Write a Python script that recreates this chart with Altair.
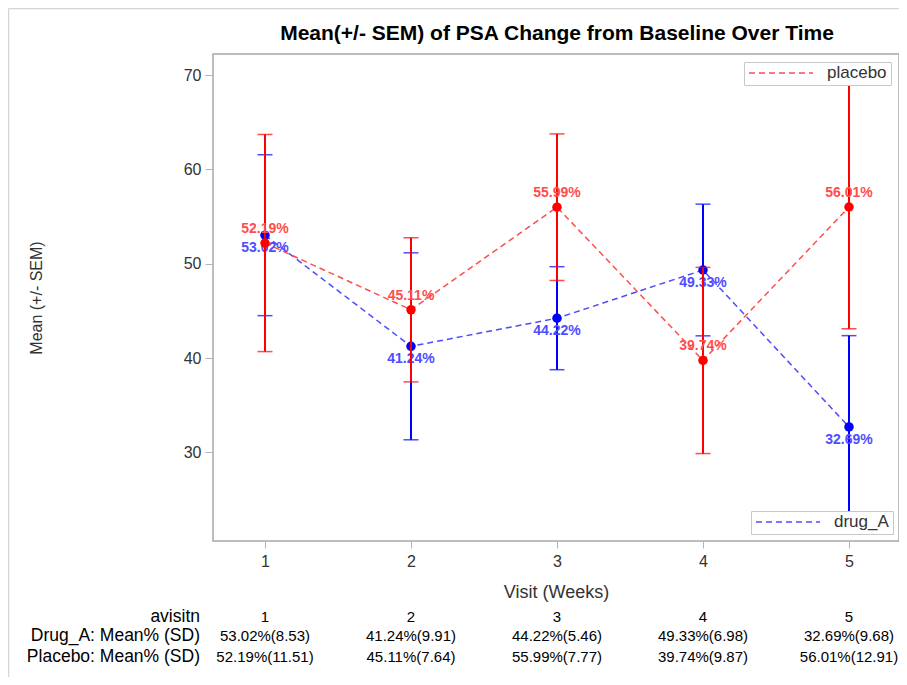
import altair as alt
import pandas as pd

visits = [1, 2, 3, 4, 5]
drug_mean = [53.02, 41.24, 44.22, 49.33, 32.69]
drug_sd = [8.53, 9.91, 5.46, 6.98, 9.68]
plac_mean = [52.19, 45.11, 55.99, 39.74, 56.01]
plac_sd = [11.51, 7.64, 7.77, 9.87, 12.91]
row_labels = ["avisitn", "Drug_A: Mean% (SD)", "Placebo: Mean% (SD)"]
y_ticks = [30, 40, 50, 60, 70]
title_text = "Mean(+/- SEM) of PSA Change from Baseline Over Time"

rows = []
for g, m, s in [("drug_A", drug_mean, drug_sd), ("placebo", plac_mean, plac_sd)]:
    for v, mi, si in zip(visits, m, s):
        rows.append({"visit": v, "group": g, "mean": mi, "sd": si,
                     "lo": mi - si, "hi": mi + si,
                     "label": f"{mi:.2f}%", "table": f"{mi:.2f}%({si:.2f})",
                     "vis": str(v)})
df = pd.DataFrame(rows)

FONT = "Liberation Sans"
RED, BLUE = "#ff0000", "#0000ff"
RED_L, BLUE_L = "#ff4d4d", "#4d4dff"

x = alt.X("visit:Q", scale=alt.Scale(domain=[0.643836, 5.342466], nice=False, zero=False),
          axis=alt.Axis(values=visits, format="d", title="Visit (Weeks)", grid=False,
                        domain=False, tickSize=7, tickColor="#b4b4b4", labelPadding=5,
                        labelFontSize=16, titleFontSize=18, titleFontWeight="normal",
                        titlePadding=14, labelColor="#333333", titleColor="#333333",
                        labelFont=FONT, titleFont=FONT))
y = alt.Y("mean:Q", scale=alt.Scale(domain=[20.6, 72.23], nice=False, zero=False),
          axis=alt.Axis(values=y_ticks, title="Mean (+/- SEM)", grid=False,
                        domain=False, tickSize=8, tickColor="#b4b4b4", labelPadding=4,
                        labelFontSize=16, titleFontSize=16, titleFontWeight="normal",
                        titlePadding=139, labelColor="#333333", titleColor="#333333",
                        labelFont=FONT, titleFont=FONT))

base = alt.Chart(df)

def grp(g):
    return base.transform_filter(alt.datum.group == g)

def legend(xp, yp):
    return alt.Legend(orient="none", legendX=xp, legendY=yp, title=None,
                      symbolType="stroke", symbolDash=[6, 4], symbolStrokeWidth=1.5,
                      symbolSize=4096, clipHeight=14, labelFontSize=17, labelFont=FONT,
                      labelColor="#333333", labelOffset=13, padding=4,
                      strokeColor="#c8c8c8", fillColor="white")

layers = []
for g, col, col_l, lx, ly, dy in [("drug_A", BLUE, BLUE_L, 538, 457, 13),
                                  ("placebo", RED, RED_L, 531, 8, -14)]:
    c = grp(g)
    line = c.mark_line(strokeDash=[6, 4], strokeWidth=1.5).encode(
        x=x, y=y,
        color=alt.Color("group:N", scale=alt.Scale(domain=[g], range=[col_l]),
                        legend=legend(lx, ly)))
    bar = c.mark_rule(color=col, strokeWidth=2).encode(x=x, y=alt.Y("lo:Q"), y2="hi:Q")
    cap_lo = c.mark_tick(color=col, orient="horizontal", size=15, thickness=1.5).encode(x=x, y=alt.Y("lo:Q"))
    cap_hi = c.mark_tick(color=col, orient="horizontal", size=15, thickness=1.5).encode(x=x, y=alt.Y("hi:Q"))
    pts = c.mark_point(filled=True, size=90, opacity=1, color=col).encode(x=x, y=y)
    lab = c.mark_text(dy=dy, fontSize=14, fontWeight="bold", font=FONT,
                      color=col_l).encode(x=x, y=y, text="label:N")
    layers += [line, bar, cap_lo, cap_hi, pts, lab]

# table below the plot
TV = 15
tab_vis = grp("drug_A").mark_text(fontSize=TV, font=FONT, color="black").encode(
    x=x, y=alt.value(563), text="vis:N")
tab_drug = grp("drug_A").mark_text(fontSize=TV, font=FONT, color="black").encode(
    x=x, y=alt.value(582), text="table:N")
tab_plac = grp("placebo").mark_text(fontSize=TV, font=FONT, color="black").encode(
    x=x, y=alt.value(603), text="table:N")
lab_rows = []
for lbl, yy in zip(row_labels, [563, 582, 603]):
    lab_rows.append(alt.Chart(pd.DataFrame({"t": [lbl]})).mark_text(
        align="right", fontSize=17.5, font=FONT, color="black").encode(
        x=alt.value(-13), y=alt.value(yy), text="t:N"))

title = alt.Chart(pd.DataFrame({"t": [title_text]})).mark_text(
    fontSize=21, fontWeight="bold", font=FONT, color="black").encode(
    x=alt.value(344), y=alt.value(-20), text="t:N")

border = alt.Chart(pd.DataFrame({"t": [0]})).mark_rule(color="#d4d4d4", strokeWidth=1.5)
b_left = border.encode(x=alt.value(-204.5), y=alt.value(-45.5), y2=alt.value(623))
b_top = border.encode(x=alt.value(-204.5), x2=alt.value(686), y=alt.value(-45.5))

chart = alt.layer(b_left, b_top, title, *layers, tab_vis, tab_drug, tab_plac, *lab_rows).resolve_scale(
    color="independent").properties(
    width=686, height=487,
    autosize=alt.AutoSizeParams(type="none"),
    padding={"left": 205, "top": 46, "right": 0, "bottom": 136},
).configure_view(stroke="#a8a8a8", strokeWidth=1.5)

chart.save("out.html", embed_options={"renderer": "svg", "actions": False})
